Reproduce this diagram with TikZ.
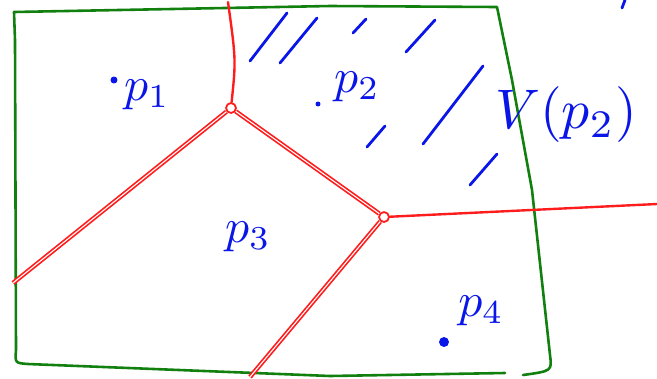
\documentclass[tikz,border=0pt]{standalone}
\usepackage{tikz}
\usepackage{graphicx}
\usepackage{xcolor}
\usetikzlibrary{calc}
\definecolor{penGreen}{HTML}{11800F}
\definecolor{penRed}{HTML}{FF1C1C}
\definecolor{penBlue}{HTML}{0A16E8}
\newcommand{\penlabel}[2][4.8]{\scalebox{#1}{#2}}

\begin{document}
\begin{tikzpicture}[x=1bp,y=-1bp,
  frame/.style={penGreen,line width=2.6pt,line join=round,line cap=round},
  edge/.style={penRed,line width=2.4pt,line cap=round},
  dblEdge/.style={draw=penRed,line width=1.7pt,double=white,double distance=1.1pt},
  hatch/.style={penBlue,line width=2.8pt,line cap=round},
  lbl/.style={text=penBlue,inner sep=0pt},
  site/.style={circle,fill=penBlue,inner sep=0pt,minimum size=#1},
  vtx/.style={circle,draw=penRed,line width=1.8pt,inner sep=0pt,minimum size=10pt}]
\useasboundingbox (0,0) rectangle (657,378);
% bounding box (green)
\draw[frame] (14,12) -- (330,6) -- (497,7) -- (512,80) -- (532,190) -- (550,355)
  .. controls (552,371) .. (523,375);
\draw[frame] (505,373) -- (330,376) -- (28,364) .. controls (15,363) .. (16,350) -- (15,40) -- (14,12);
% voronoi vertices and edges
\node[vtx] (vA) at (231,108) {};
\node[vtx] (vB) at (384,217) {};
\coordinate (eTop) at (228,2);
\coordinate (eLeft) at (13,283);
\coordinate (eRight) at (657,204);
\coordinate (eBot) at (250,377);
\draw[edge] (vA) .. controls (236,60) .. (eTop);
\draw[dblEdge] (vA) -- (eLeft);
\draw[dblEdge] (vA) -- (vB);
\draw[edge] (vB) -- (eRight);
\draw[dblEdge] (vB) -- (eBot);
% sites
\node[site=7pt] (s1) at (114,80) {};
\node[site=5pt] (s2) at (318,104) {};
\node[site=10pt] (s4) at (444,342) {};
\node[lbl] (p1) at (147,95) {\penlabel{$p_1$}};
\node[lbl] (p2) at (357,87) {\penlabel{$p_2$}};
\node[lbl] (p3) at (248,237) {\penlabel{$p_3$}};
\node[lbl] (p4) at (481,311) {\penlabel{$p_4$}};
\node[lbl] (vp2) at (566,115) {\penlabel[5.6]{$V(p_2)$}};
% hatching of V(p2)
\draw[hatch] (250,61) -- (287,13);
\draw[hatch] (280,63) -- (317,18);
\draw[hatch] (353,33) -- (366,19);
\draw[hatch] (406,52) -- (435,20);
\draw[hatch] (367,147) -- (385,126);
\draw[hatch] (423,144) -- (483,66);
\draw[hatch] (470,185) -- (497,154);
\draw[hatch] (625,0) -- (622,8);
\end{tikzpicture}
\end{document}
